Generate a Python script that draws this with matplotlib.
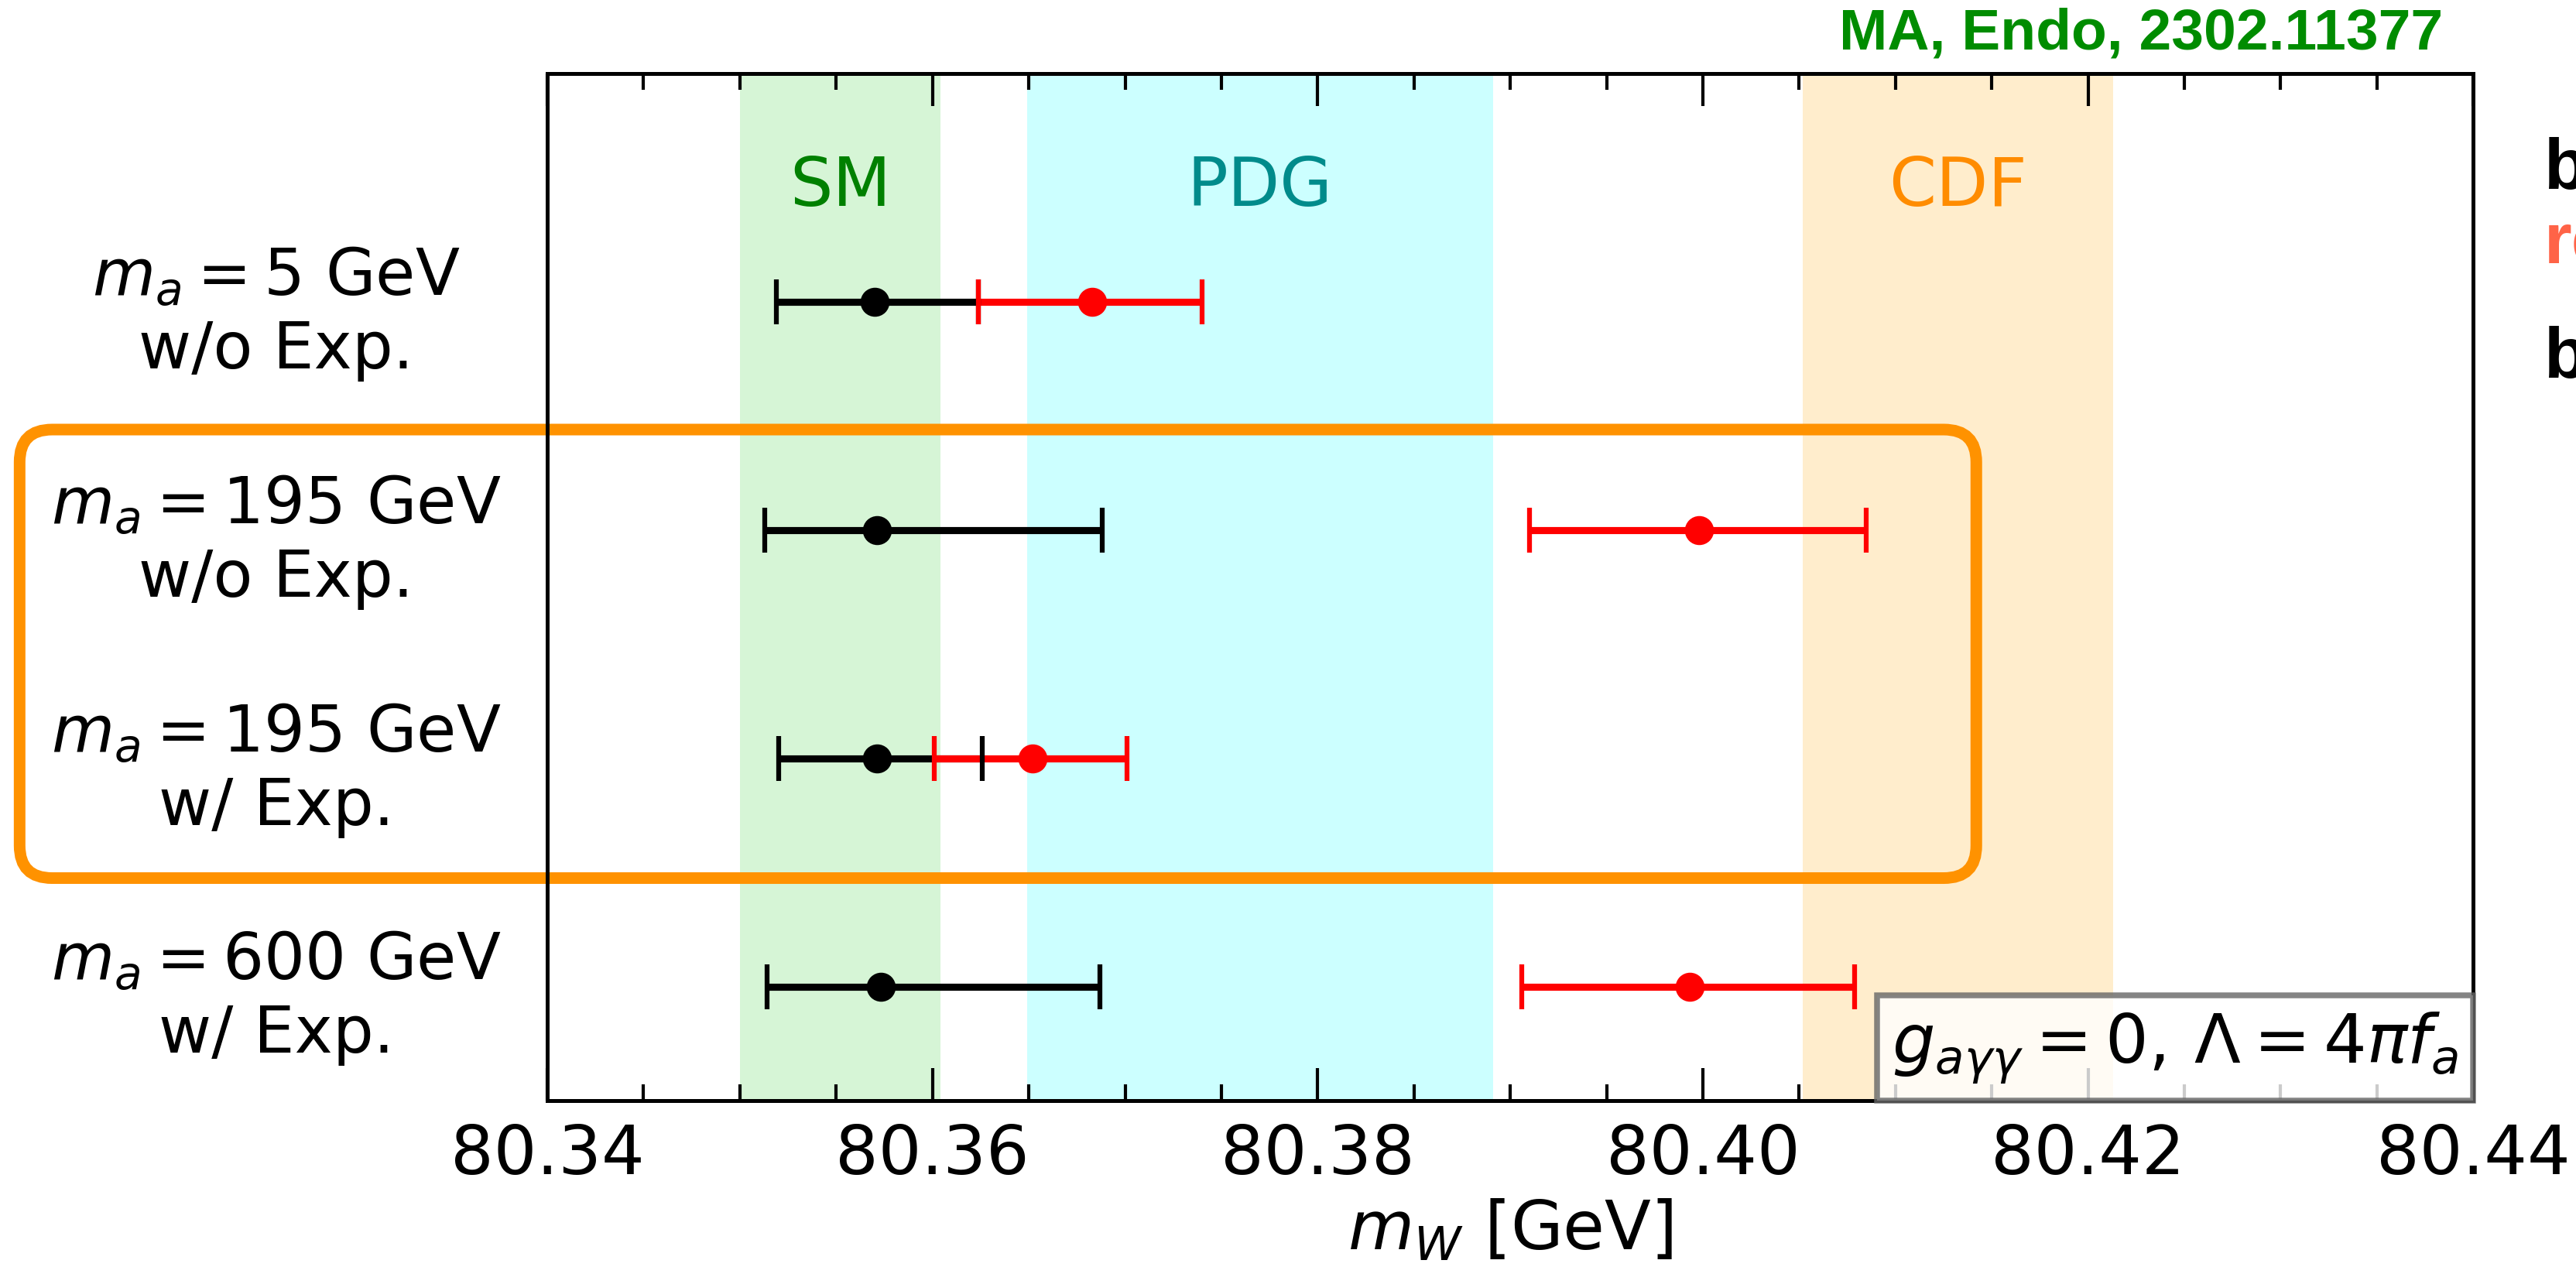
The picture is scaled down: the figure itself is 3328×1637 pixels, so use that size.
import matplotlib
matplotlib.use('Agg')
import matplotlib.pyplot as plt
from matplotlib.patches import FancyBboxPatch
from matplotlib.offsetbox import AnchoredText
from matplotlib.transforms import IdentityTransform
from matplotlib.ticker import MultipleLocator, FormatStrFormatter

plt.rcParams['mathtext.fontset'] = 'dejavusans'

# benchmark rows, top to bottom
row_labels = [r'$m_a = 5$ GeV' + '\nw/o Exp.',
              r'$m_a = 195$ GeV' + '\nw/o Exp.',
              r'$m_a = 195$ GeV' + '\nw/ Exp.',
              r'$m_a = 600$ GeV' + '\nw/ Exp.']
row_pos = [4, 3, 2, 1]

# SM prediction (black)
sm_val = [80.3570, 80.3571, 80.3571, 80.3573]
sm_lo = [80.3519, 80.3513, 80.3520, 80.3514]
sm_hi = [80.3624, 80.3688, 80.3626, 80.3687]

# with axion contribution (red)
ax_val = [80.3683, 80.3998, 80.3652, 80.3993]
ax_lo = [80.3624, 80.3910, 80.3601, 80.3906]
ax_hi = [80.3740, 80.4085, 80.3701, 80.4079]

# reference bands
band_names = ['SM', 'PDG', 'CDF']
band_lo = [80.3500, 80.3649, 80.4052]
band_hi = [80.3604, 80.3891, 80.4213]
band_fill = ['limegreen', 'cyan', 'orange']
band_text = ['green', 'darkcyan', 'darkorange']

fig = plt.figure(figsize=(3329 / 300, 1637 / 300), dpi=300)
ax = fig.add_axes([0.2124, 0.1313, 0.7474, 0.8107])

for lo, hi, fc, tc, name in zip(band_lo, band_hi, band_fill, band_text, band_names):
    ax.axvspan(lo, hi, color=fc, alpha=0.2, lw=0, zorder=0)
    ax.text((lo + hi) / 2, 4.5, name, color=tc, fontsize=21, ha='center', va='center')


def draw_points(val, lo, hi, color, z):
    err = [[v - l for v, l in zip(val, lo)], [h - v for v, h in zip(val, hi)]]
    eb = ax.errorbar(val, row_pos, xerr=err, fmt='o', color=color, markersize=8,
                     elinewidth=2.2, capsize=7, capthick=1.5, zorder=z)
    for cap in eb[1]:
        cap.set_zorder(6)
    eb[0].set_zorder(7)


draw_points(sm_val, sm_lo, sm_hi, 'black', 3)
draw_points(ax_val, ax_lo, ax_hi, 'red', 4)

ax.set_xlim(80.34, 80.44)
ax.set_ylim(0.5, 5.0)
ax.xaxis.set_major_locator(MultipleLocator(0.02))
ax.xaxis.set_minor_locator(MultipleLocator(0.005))
ax.xaxis.set_major_formatter(FormatStrFormatter('%.2f'))
ax.tick_params(axis='x', which='both', direction='in', top=True, bottom=True, width=1.0)
ax.tick_params(axis='x', which='major', length=10, labelsize=21, pad=7)
ax.tick_params(axis='x', which='minor', length=5)

ax.set_yticks(row_pos)
ax.set_yticklabels(row_labels, fontsize=20)
ax.tick_params(axis='y', length=0, pad=84)
for lab in ax.get_yticklabels():
    lab.set_ha('center')
    lab.set_multialignment('center')

for sp in ax.spines.values():
    sp.set_linewidth(1.2)

ax.set_xlabel(r'$m_W$ [GeV]', fontsize=21, labelpad=3)

note = AnchoredText(r'$g_{a\gamma\gamma} = 0,\,\Lambda = 4\pi f_a$', loc='lower right',
                    prop=dict(size=21), frameon=True, borderpad=0, pad=0.22)
note.patch.set_boxstyle('square,pad=0')
note.patch.set(edgecolor='0.4', facecolor='white', alpha=0.8, linewidth=1.8)
note.set_zorder(8)
ax.add_artist(note)

# orange frame around the two m_a = 195 GeV rows
p0 = ax.transData.transform((80.3126, 1.475))
p1 = ax.transData.transform((80.4142, 3.44))
frame = FancyBboxPatch(p0, p1[0] - p0[0], p1[1] - p0[1],
                       boxstyle='round,pad=0,rounding_size=42',
                       transform=IdentityTransform(), fill=False,
                       edgecolor='#ff9200', linewidth=3.6, clip_on=False, zorder=1)
ax.add_patch(frame)

fig.text(0.948, 0.973, 'MA, Endo, 2302.11377', ha='right', va='center',
         color='#008c00', fontsize=18, family='Liberation Sans', weight='bold')

for txt, y, c in zip(['b', 're', 'b'], [0.851, 0.792, 0.702], ['black', 'tomato', 'black']):
    fig.text(0.9874, y, txt, ha='left', va='baseline', color=c, fontsize=22,
             family='Liberation Sans', weight='bold')

fig.savefig('out.png', dpi=300)
